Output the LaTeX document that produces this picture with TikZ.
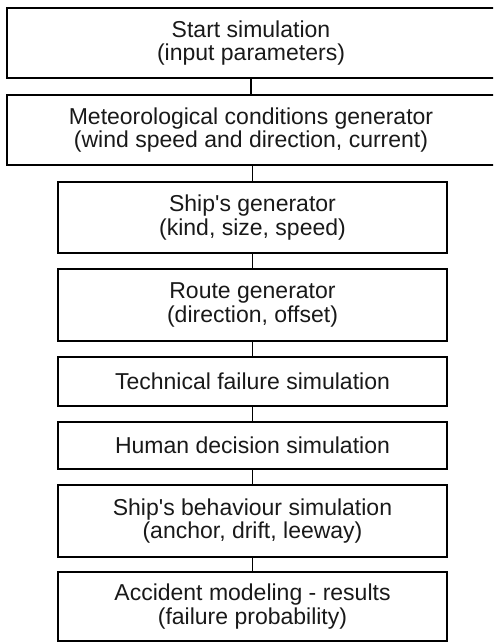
\documentclass[tikz,border=0pt]{standalone}
\usepackage{fontspec}
\setmainfont{Liberation Sans}[Ligatures=TeXOff]
\begin{document}
\begin{tikzpicture}[x=1pt,y=-1pt,
  flowbox/.style={draw=black, line width=1.8pt, rectangle, inner sep=0pt,
    align=center, font=\fontsize{23}{23.5}\selectfont, text=black!90},
  wide/.style={flowbox, minimum width=488pt},
  narrow/.style={flowbox, minimum width=389pt},
  link/.style={draw=black, line width=1.8pt}]
\useasboundingbox (0,0) rectangle (493,643);
\clip (0,0) rectangle (493,643);
\node[wide, minimum height=70pt] (b1) at (251,43) {Start simulation\\(input parameters)};
\node[wide, minimum height=70pt] (b2) at (251,130) {Meteorological conditions generator\\(wind speed and direction, current)};
\node[narrow, minimum height=71pt] (b3) at (252.5,217.5) {Ship's generator\\(kind, size, speed)};
\node[narrow, minimum height=72pt] (b4) at (252.5,305) {Route generator\\(direction, offset)};
\node[narrow, minimum height=49pt] (b5) at (252.5,381.5) {Technical failure simulation};
\node[narrow, minimum height=47pt] (b6) at (252.5,445.5) {Human decision simulation};
\node[narrow, minimum height=72pt] (b7) at (252.5,521) {Ship's behaviour simulation\\(anchor, drift, leeway)};
\node[narrow, minimum height=69pt] (b8) at (252.5,606.5) {Accident modeling - results\\(failure probability)};
\draw[link] (b1.south) -- (b2.north);
\draw[link] (b3.north |- b2.south) -- (b3.north);
\draw[link] (b3.south) -- (b4.north);
\draw[link] (b4.south) -- (b5.north);
\draw[link] (b5.south) -- (b6.north);
\draw[link] (b6.south) -- (b7.north);
\draw[link] (b7.south) -- (b8.north);
\end{tikzpicture}
\end{document}
